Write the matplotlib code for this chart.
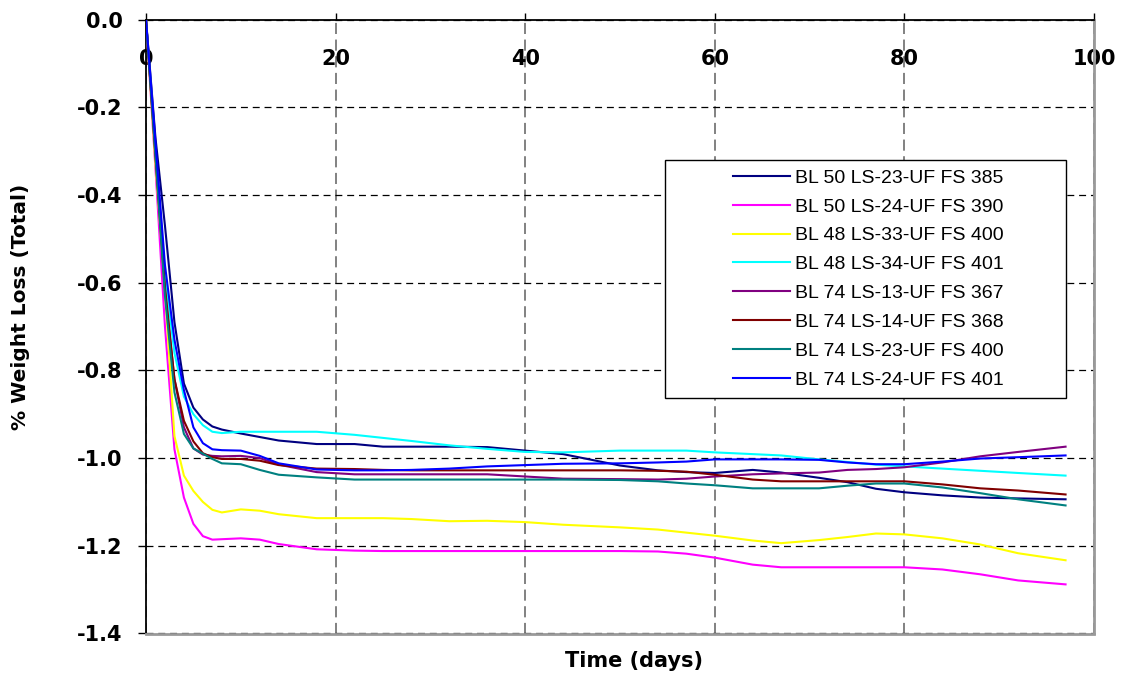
import matplotlib
matplotlib.use("Agg")
import matplotlib.pyplot as plt
from matplotlib.patches import Rectangle

plt.rcParams['lines.scale_dashes'] = False

days = [0, 1, 2, 3, 4, 5, 6, 7, 8, 10, 12, 14, 18, 22, 25, 28, 32, 36, 40, 44,
        50, 54, 57, 60, 64, 67, 71, 74, 77, 80, 84, 88, 92, 97]

bl50_ls23 = [0, -0.27, -0.47, -0.69, -0.83, -0.885, -0.912, -0.928, -0.935, -0.944, -0.952, -0.960,
             -0.968, -0.968, -0.974, -0.974, -0.974, -0.975, -0.983, -0.991, -1.017, -1.028, -1.032,
             -1.034, -1.027, -1.033, -1.045, -1.055, -1.070, -1.078, -1.085, -1.090, -1.092, -1.094]
bl50_ls24 = [0, -0.34, -0.70, -0.98, -1.09, -1.15, -1.178, -1.186, -1.185, -1.183, -1.186, -1.196,
             -1.208, -1.211, -1.212, -1.212, -1.212, -1.212, -1.212, -1.212, -1.212, -1.213, -1.218,
             -1.227, -1.243, -1.249, -1.249, -1.249, -1.249, -1.249, -1.254, -1.265, -1.279, -1.288]
bl48_ls33 = [0, -0.33, -0.62, -0.95, -1.04, -1.075, -1.10, -1.118, -1.124, -1.117, -1.120, -1.128,
             -1.137, -1.137, -1.137, -1.139, -1.144, -1.143, -1.146, -1.152, -1.158, -1.163, -1.170,
             -1.177, -1.188, -1.194, -1.187, -1.180, -1.172, -1.174, -1.183, -1.197, -1.217, -1.233]
bl48_ls34 = [0, -0.30, -0.58, -0.76, -0.86, -0.90, -0.925, -0.940, -0.943, -0.940, -0.940, -0.940,
             -0.940, -0.947, -0.954, -0.961, -0.971, -0.979, -0.986, -0.987, -0.983, -0.983, -0.983,
             -0.987, -0.991, -0.994, -1.003, -1.009, -1.015, -1.019, -1.024, -1.029, -1.034, -1.040]
bl74_ls13 = [0, -0.31, -0.62, -0.82, -0.93, -0.978, -0.992, -0.995, -0.996, -0.995, -1.000, -1.015,
             -1.032, -1.037, -1.037, -1.037, -1.037, -1.037, -1.042, -1.047, -1.048, -1.049, -1.047,
             -1.042, -1.037, -1.035, -1.033, -1.027, -1.025, -1.021, -1.010, -0.996, -0.986, -0.974]
bl74_ls14 = [0, -0.31, -0.61, -0.82, -0.915, -0.962, -0.989, -0.998, -1.002, -1.002, -1.006, -1.016,
             -1.024, -1.025, -1.027, -1.028, -1.028, -1.028, -1.028, -1.028, -1.028, -1.029, -1.031,
             -1.038, -1.049, -1.053, -1.053, -1.053, -1.053, -1.053, -1.060, -1.069, -1.074, -1.083]
bl74_ls23 = [0, -0.31, -0.63, -0.85, -0.945, -0.978, -0.990, -1.002, -1.012, -1.014, -1.027, -1.038,
             -1.044, -1.049, -1.049, -1.049, -1.049, -1.049, -1.049, -1.049, -1.050, -1.053, -1.058,
             -1.062, -1.069, -1.069, -1.069, -1.063, -1.058, -1.058, -1.067, -1.080, -1.094, -1.108]
bl74_ls24 = [0, -0.28, -0.56, -0.73, -0.845, -0.93, -0.966, -0.980, -0.982, -0.983, -0.995, -1.012,
             -1.026, -1.028, -1.028, -1.027, -1.024, -1.019, -1.016, -1.013, -1.012, -1.010, -1.008,
             -1.003, -1.003, -1.003, -1.004, -1.010, -1.014, -1.014, -1.008, -1.001, -0.998, -0.994]

labels = ["BL 50 LS-23-UF FS 385", "BL 50 LS-24-UF FS 390", "BL 48 LS-33-UF FS 400",
          "BL 48 LS-34-UF FS 401", "BL 74 LS-13-UF FS 367", "BL 74 LS-14-UF FS 368",
          "BL 74 LS-23-UF FS 400", "BL 74 LS-24-UF FS 401"]
series = [bl50_ls23, bl50_ls24, bl48_ls33, bl48_ls34, bl74_ls13, bl74_ls14, bl74_ls23, bl74_ls24]
colors = ["#000080", "#FF00FF", "#FFFF00", "#00FFFF", "#800080", "#800000", "#008080", "#0000FF"]

x_ticks = [0, 20, 40, 60, 80, 100]
y_ticks = [0.0, -0.2, -0.4, -0.6, -0.8, -1.0, -1.2, -1.4]

W, H = 1127, 681
fig = plt.figure(figsize=(W / 100, H / 100), dpi=100)
ax = fig.add_axes([146 / W, 1 - 633.5 / H, (1094 - 146) / W, 614 / H])

for vals, lab, col in zip(series, labels, colors):
    ax.plot(days, vals, color=col, lw=1.5, label=lab, zorder=3)

ax.set_xlim(0, 100)
ax.set_ylim(-1.4, 0)
ax.set_xticks(x_ticks)
ax.set_yticks(y_ticks)
ax.set_xticklabels([f"{v:d}" for v in x_ticks])
ax.set_yticklabels([f"{v:.1f}" for v in y_ticks])

# x axis line sits at y = 0 (top edge), labels below it
ax.spines['bottom'].set_position(('data', 0))
ax.spines['bottom'].set_color('black')
ax.spines['bottom'].set_linewidth(1.3)
ax.spines['top'].set_position(('axes', 0.0))
ax.spines['top'].set_color('#999999')
ax.spines['top'].set_linewidth(2)
ax.spines['right'].set_color('#999999')
ax.spines['right'].set_linewidth(2)
ax.spines['left'].set_color('black')
ax.spines['left'].set_linewidth(1.3)

tick_font = dict(family='DejaVu Sans', weight='bold', size=15)
ax.tick_params(axis='x', direction='in', length=5, width=1, pad=21, top=False, bottom=True)
ax.tick_params(axis='y', direction='out', length=6, width=1, pad=11)
for t in ax.get_xticklabels() + ax.get_yticklabels():
    t.set_fontfamily('DejaVu Sans')
    t.set_fontweight('bold')
    t.set_fontsize(15)

ax.xaxis.grid(True, color='#777777', lw=1.3, linestyle=(0, (8, 4)))
ax.yaxis.grid(True, color='black', lw=0.9, linestyle=(0, (5, 3.5)))

ax.set_xlabel("Time (days)", fontdict=tick_font)
ax.xaxis.set_label_coords((634 - 146) / 948, (633.5 - 651) / 614)
ax.set_ylabel("% Weight Loss (Total)", fontdict=dict(family='DejaVu Sans', weight='bold', size=14.5))
ax.yaxis.set_label_coords((30 - 146) / 948, (633.5 - 307) / 614)

# legend frame
rect = Rectangle((665 / W, 1 - 398 / H), 401 / W, 238 / H, transform=fig.transFigure,
                 facecolor='white', edgecolor='black', lw=1, zorder=4, clip_on=False)
ax.add_patch(rect)
leg = ax.legend(loc='upper left', bbox_to_anchor=(733 / W, 1 - 169 / H),
                bbox_transform=fig.transFigure, frameon=False, borderpad=0, borderaxespad=0,
                handlelength=2.94, handletextpad=0.26, labelspacing=0.58,
                prop=dict(family='Liberation Sans', size=14))
leg.set_zorder(5)

fig.savefig("out.png", dpi=100)
